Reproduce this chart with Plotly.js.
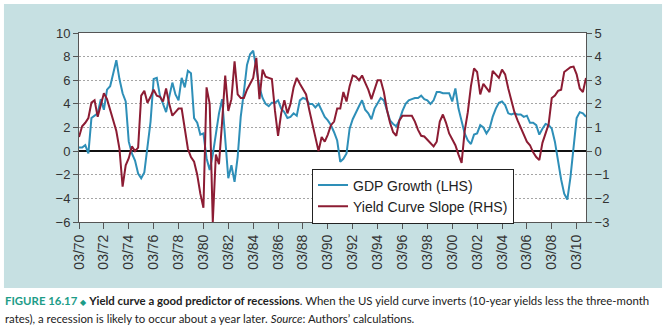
<!DOCTYPE html>
<html><head><meta charset="utf-8">
<script src="https://cdn.plot.ly/plotly-3.0.1.min.js"></script>
<style>html,body{margin:0;padding:0;background:#fff;overflow:hidden}#chart{width:668px;height:325px}</style>
</head><body><div id="chart"></div>
<script>
// Quarterly data, 1970Q1 (03/70) to 2010Q4 (12/10)
const firstYear = 1970;
const quarterMonths = ['03','06','09','12'];

// US real GDP growth, % y/y (left axis)
const gdpGrowth = [
  0.3, 0.3, 0.5, -0.2,   // 1970
  2.8, 3.0, 3.2, 4.4,    // 1971
  3.5, 5.2, 5.5, 6.6,    // 1972
  7.7, 6.1, 4.9, 4.2,    // 1973
  0.8, -0.2, -0.8, -1.9, // 1974
  -2.3, -1.8, 0.4, 2.5,  // 1975
  6.1, 6.2, 4.7, 4.0,    // 1976
  3.3, 4.6, 5.8, 4.8,    // 1977
  4.3, 6.2, 5.4, 6.8,    // 1978
  6.6, 2.8, 2.4, 1.4,    // 1979
  1.5, -0.6, -1.6, -0.3, // 1980
  1.3, 3.2, 4.4, 1.2,    // 1981
  -2.3, -1.2, -2.6, -0.5,// 1982
  2.9, 5.0, 7.3, 8.2,    // 1983
  8.5, 7.0, 5.4, 4.5,    // 1984
  4.0, 3.8, 4.1, 4.1,    // 1985
  4.3, 3.6, 3.3, 2.8,    // 1986
  2.9, 3.2, 3.0, 4.3,    // 1987
  4.5, 4.4, 4.0, 4.0,    // 1988
  3.7, 4.0, 3.4, 2.9,    // 1989
  2.6, 2.2, 1.6, 0.9,    // 1990
  -0.9, -0.65, -0.2, 1.9,// 1991
  2.7, 3.3, 3.8, 4.3,    // 1992
  3.5, 3.2, 2.7, 3.6,    // 1993
  4.1, 4.5, 4.3, 3.4,    // 1994
  2.6, 2.3, 2.1, 2.6,    // 1995
  3.4, 4.0, 4.3, 4.4,    // 1996
  4.5, 4.5, 4.7, 4.4,    // 1997
  4.3, 4.0, 4.3, 5.0,    // 1998
  5.0, 4.9, 4.9, 4.9,    // 1999
  4.2, 5.3, 3.6, 2.6,    // 2000
  1.5, 0.9, 0.6, 1.4,    // 2001
  1.5, 2.2, 2.0, 1.5,    // 2002
  1.9, 2.9, 3.6, 4.1,    // 2003
  4.2, 3.9, 3.2, 3.1,    // 2004
  3.2, 3.1, 3.1, 2.9,    // 2005
  3.0, 2.4, 2.4, 2.2,    // 2006
  1.4, 1.9, 2.3, 2.2,    // 2007
  1.9, 0.8, -0.9, -2.4,  // 2008
  -3.6, -4.1, -2.2, 0.5, // 2009
  2.8, 3.3, 3.2, 2.9     // 2010
];

// Yield curve slope: 10-year less 3-month, % (right axis)
const yieldSlope = [
  0.6, 1.05, 1.2, 1.4,     // 1970
  2.05, 2.15, 1.45, 1.95,  // 1971
  2.45, 2.2, 1.75, 1.35,   // 1972
  0.85, 0.1, -1.5, -0.6,   // 1973
  -0.3, 0.2, 0.0, 0.15,    // 1974
  2.35, 2.55, 2.05, 2.3,   // 1975
  2.6, 2.35, 2.3, 2.1,     // 1976
  2.65, 2.0, 1.5, 1.65,    // 1977
  1.8, 1.8, 0.9, 0.1,      // 1978
  -0.25, -0.45, -1.0, -1.8,// 1979
  -2.4, 2.7, 2.0, -3.0,    // 1980
  -0.15, -0.55, 1.25, 3.2, // 1981
  1.7, 2.2, 3.8, 2.4,      // 1982
  2.25, 2.25, 2.6, 2.85,   // 1983
  3.1, 3.95, 2.2, 3.45,    // 1984
  3.15, 3.1, 3.05, 1.7,    // 1985
  0.65, 1.6, 2.15, 1.6,    // 1986
  2.0, 2.7, 3.1, 2.85,     // 1987
  2.65, 2.4, 1.75, 1.15,   // 1988
  0.5, 0.0, 0.6, 0.4,      // 1989
  0.7, 1.1, 1.25, 1.8,     // 1990
  1.8, 2.5, 2.1, 2.75,     // 1991
  3.2, 3.15, 3.0, 3.2,     // 1992
  2.9, 2.6, 2.2, 2.6,      // 1993
  3.0, 3.0, 2.5, 1.75,     // 1994
  1.2, 0.8, 0.65, 1.3,     // 1995
  1.5, 1.5, 1.5, 1.5,      // 1996
  1.25, 0.9, 0.65, 0.62,   // 1997
  0.48, 0.35, 0.2, 0.4,    // 1998
  1.25, 1.55, 1.2, 0.75,   // 1999
  0.5, 0.25, -0.15, -0.5,  // 2000
  0.85, 1.65, 2.75, 3.5,   // 2001
  3.35, 2.4, 2.85, 2.65,   // 2002
  2.5, 3.4, 3.25, 3.1,     // 2003
  3.45, 3.25, 2.65, 2.1,   // 2004
  1.65, 1.3, 1.0, 0.7,     // 2005
  0.4, 0.25, -0.05, -0.25, // 2006
  -0.38, 0.35, 0.75, 1.15, // 2007
  2.25, 2.35, 2.55, 2.6,   // 2008
  3.35, 3.45, 3.55, 3.58,  // 2009
  3.25, 2.65, 2.5, 3.1     // 2010
];

const tickDates = ['1970-03-01','1972-03-01','1974-03-01','1976-03-01','1978-03-01','1980-03-01','1982-03-01',
  '1984-03-01','1986-03-01','1988-03-01','1990-03-01','1992-03-01','1994-03-01','1996-03-01','1998-03-01',
  '2000-03-01','2002-03-01','2004-03-01','2006-03-01','2008-03-01','2010-03-01'];
const tickLabels = ['03/70','03/72','03/74','03/76','03/78','03/80','03/82','03/84','03/86','03/88','03/90',
  '03/92','03/94','03/96','03/98','03/00','03/02','03/04','03/06','03/08','03/10'];

const seriesNames = ['GDP Growth (LHS)', 'Yield Curve Slope (RHS)'];
const captionLine1 = '<span style="color:#1d9c88"><b>FIGURE 16.17</b> <span style="font-size:8px">◆</span></span> <b>Yield curve a good predictor of recessions</b>. When the US yield curve inverts (10-year yields less the three-month';
const captionLine2 = 'rates), a recession is likely to occur about a year later. <i>Source</i>: Authors’ calculations.';

const quarterDates = gdpGrowth.map((_, i) =>
  (firstYear + Math.floor(i / 4)) + '-' + quarterMonths[i % 4] + '-01');

const axisFont = {family: 'Liberation Sans, Arial, sans-serif', size: 13, color: '#333'};

const traces = [
  {x: quarterDates, y: gdpGrowth, name: seriesNames[0], type: 'scatter', mode: 'lines',
   line: {color: '#2e8fb8', width: 2}, yaxis: 'y'},
  {x: quarterDates, y: yieldSlope, name: seriesNames[1], type: 'scatter', mode: 'lines',
   line: {color: '#8c1c33', width: 2}, yaxis: 'y2'}
];

const layout = {
  width: 668, height: 325,
  margin: {l: 79, r: 82, t: 33, b: 103, pad: 0},
  paper_bgcolor: '#ffffff',
  plot_bgcolor: 'rgba(0,0,0,0)',
  showlegend: true,
  legend: {x: 0.4596, y: 0.283, xanchor: 'left', yanchor: 'top', bgcolor: '#ffffff',
           bordercolor: '#222', borderwidth: 1, itemwidth: 30, tracegroupgap: 0,
           font: {family: 'Liberation Sans, Arial, sans-serif', size: 14, color: '#222'}},
  xaxis: {type: 'date', range: ['1970-03-01', '2010-12-01'], tickvals: tickDates, ticktext: tickLabels,
          tickangle: -90, ticks: 'outside', ticklen: 6, tickcolor: '#555', tickwidth: 1,
          showline: true, linecolor: '#555', linewidth: 1, mirror: true,
          showgrid: false, zeroline: false, tickfont: {family: axisFont.family, size: 14, color: '#333'}},
  yaxis: {range: [-6, 10], tickvals: [-6,-4,-2,0,2,4,6,8,10], ticks: 'outside', ticklen: 5,
          tickcolor: '#555', showline: true, linecolor: '#555', linewidth: 1,
          showgrid: true, gridcolor: '#a5a5a5', gridwidth: 1, griddash: '2px,2px',
          zeroline: true, zerolinecolor: '#111', zerolinewidth: 1.6, tickfont: axisFont},
  yaxis2: {range: [-3, 5], tickvals: [-3,-2,-1,0,1,2,3,4,5], overlaying: 'y', side: 'right',
           ticks: 'outside', ticklen: 5, tickcolor: '#555', showline: true, linecolor: '#555',
           linewidth: 1, showgrid: false, zeroline: false, tickfont: axisFont},
  shapes: [
    {type: 'rect', xref: 'paper', yref: 'paper', x0: -0.148, x1: 1.150, y0: -0.349, y1: 1.1534,
     fillcolor: '#c6e0e2', line: {width: 0}, layer: 'below'},
    {type: 'rect', xref: 'paper', yref: 'paper', x0: 0, x1: 1, y0: 0, y1: 1,
     fillcolor: '#ffffff', line: {width: 0}, layer: 'below'}
  ],
  annotations: [
    {xref: 'paper', yref: 'paper', x: -0.150, y: -0.413, xanchor: 'left', yanchor: 'middle',
     showarrow: false, align: 'left', text: captionLine1,
     font: {family: 'Lato, Noto Sans, sans-serif', size: 11.4, color: '#222'}},
    {xref: 'paper', yref: 'paper', x: -0.150, y: -0.508, xanchor: 'left', yanchor: 'middle',
     showarrow: false, align: 'left', text: captionLine2,
     font: {family: 'Lato, Noto Sans, sans-serif', size: 11.4, color: '#222'}}
  ]
};

Plotly.newPlot('chart', traces, layout, {staticPlot: true, displayModeBar: false});
</script>
</body></html>
